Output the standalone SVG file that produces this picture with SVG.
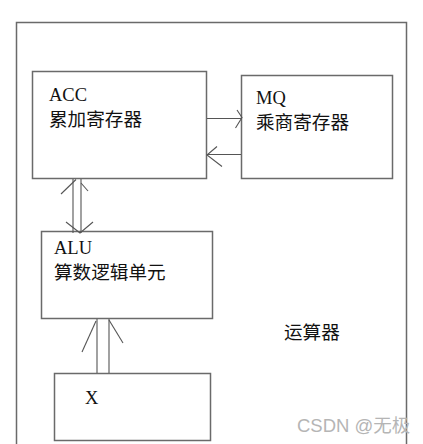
<svg xmlns="http://www.w3.org/2000/svg" width="423" height="444" viewBox="0 0 423 444">
<style>
.box{fill:none;stroke:#6a6a6a;stroke-width:1.5}
.ln{fill:none;stroke:#555;stroke-width:1.1}
.ah{fill:none;stroke:#555;stroke-width:1.1}
.lat{font-family:"Liberation Serif",serif;font-size:18.5px;fill:#111}
.cjk{font-family:"Noto Sans CJK SC","Noto Sans CJK JP",sans-serif;font-size:18.6px;fill:#111}
.wm{font-family:"Liberation Sans","Noto Sans CJK SC",sans-serif;font-size:18.5px;fill:#b5b5b5}
</style>
<rect width="423" height="444" fill="#fff"/>
<g id="cpu">
<path class="box" d="M16.5 460 V22.5 H406.5 V460"/>
<text class="cjk" x="284" y="339">运算器</text>
</g>
<g id="acc">
<rect class="box" x="32.5" y="71.5" width="174" height="107"/>
<text class="lat" x="49" y="101">ACC</text>
<text class="cjk" x="49" y="126">累加寄存器</text>
</g>
<g id="mq">
<rect class="box" x="241.5" y="75.5" width="151" height="103"/>
<text class="lat" x="256" y="104">MQ</text>
<text class="cjk" x="256" y="129">乘商寄存器</text>
</g>
<g id="alu">
<rect class="box" x="41.5" y="231.5" width="171" height="87"/>
<text class="lat" x="54" y="254">ALU</text>
<text class="cjk" x="54" y="279">算数逻辑单元</text>
</g>
<g id="x">
<rect class="box" x="54.5" y="373.5" width="156" height="67"/>
<text class="lat" x="85" y="404">X</text>
</g>
<g id="connectors">
<line class="ln" x1="207" y1="118.5" x2="241" y2="118.5"/>
<path class="ah" d="M237 110 L242 117.5 L235.5 128"/>
<line class="ln" x1="207" y1="154.5" x2="241" y2="154.5" stroke-width="1.6"/>
<path class="ah" d="M217 146.5 L207 155 L222 166.5"/>
<line class="ln" x1="73" y1="179" x2="73" y2="233"/>
<line class="ln" x1="81" y1="179" x2="81" y2="233"/>
<path class="ah" d="M61 194 L76 179.5"/>
<path class="ah" d="M81 183 L88 191"/>
<path class="ah" d="M66 222 L80 233 L93 222"/>
<line class="ln" x1="97" y1="319" x2="97" y2="373"/>
<line class="ln" x1="109" y1="319" x2="109" y2="373" stroke-width="1.5"/>
<path class="ah" d="M82 352 L96 321"/>
<path class="ah" d="M109 320 L123 343"/>
</g>
<text class="wm" x="297" y="432">CSDN @无极</text>
</svg>
